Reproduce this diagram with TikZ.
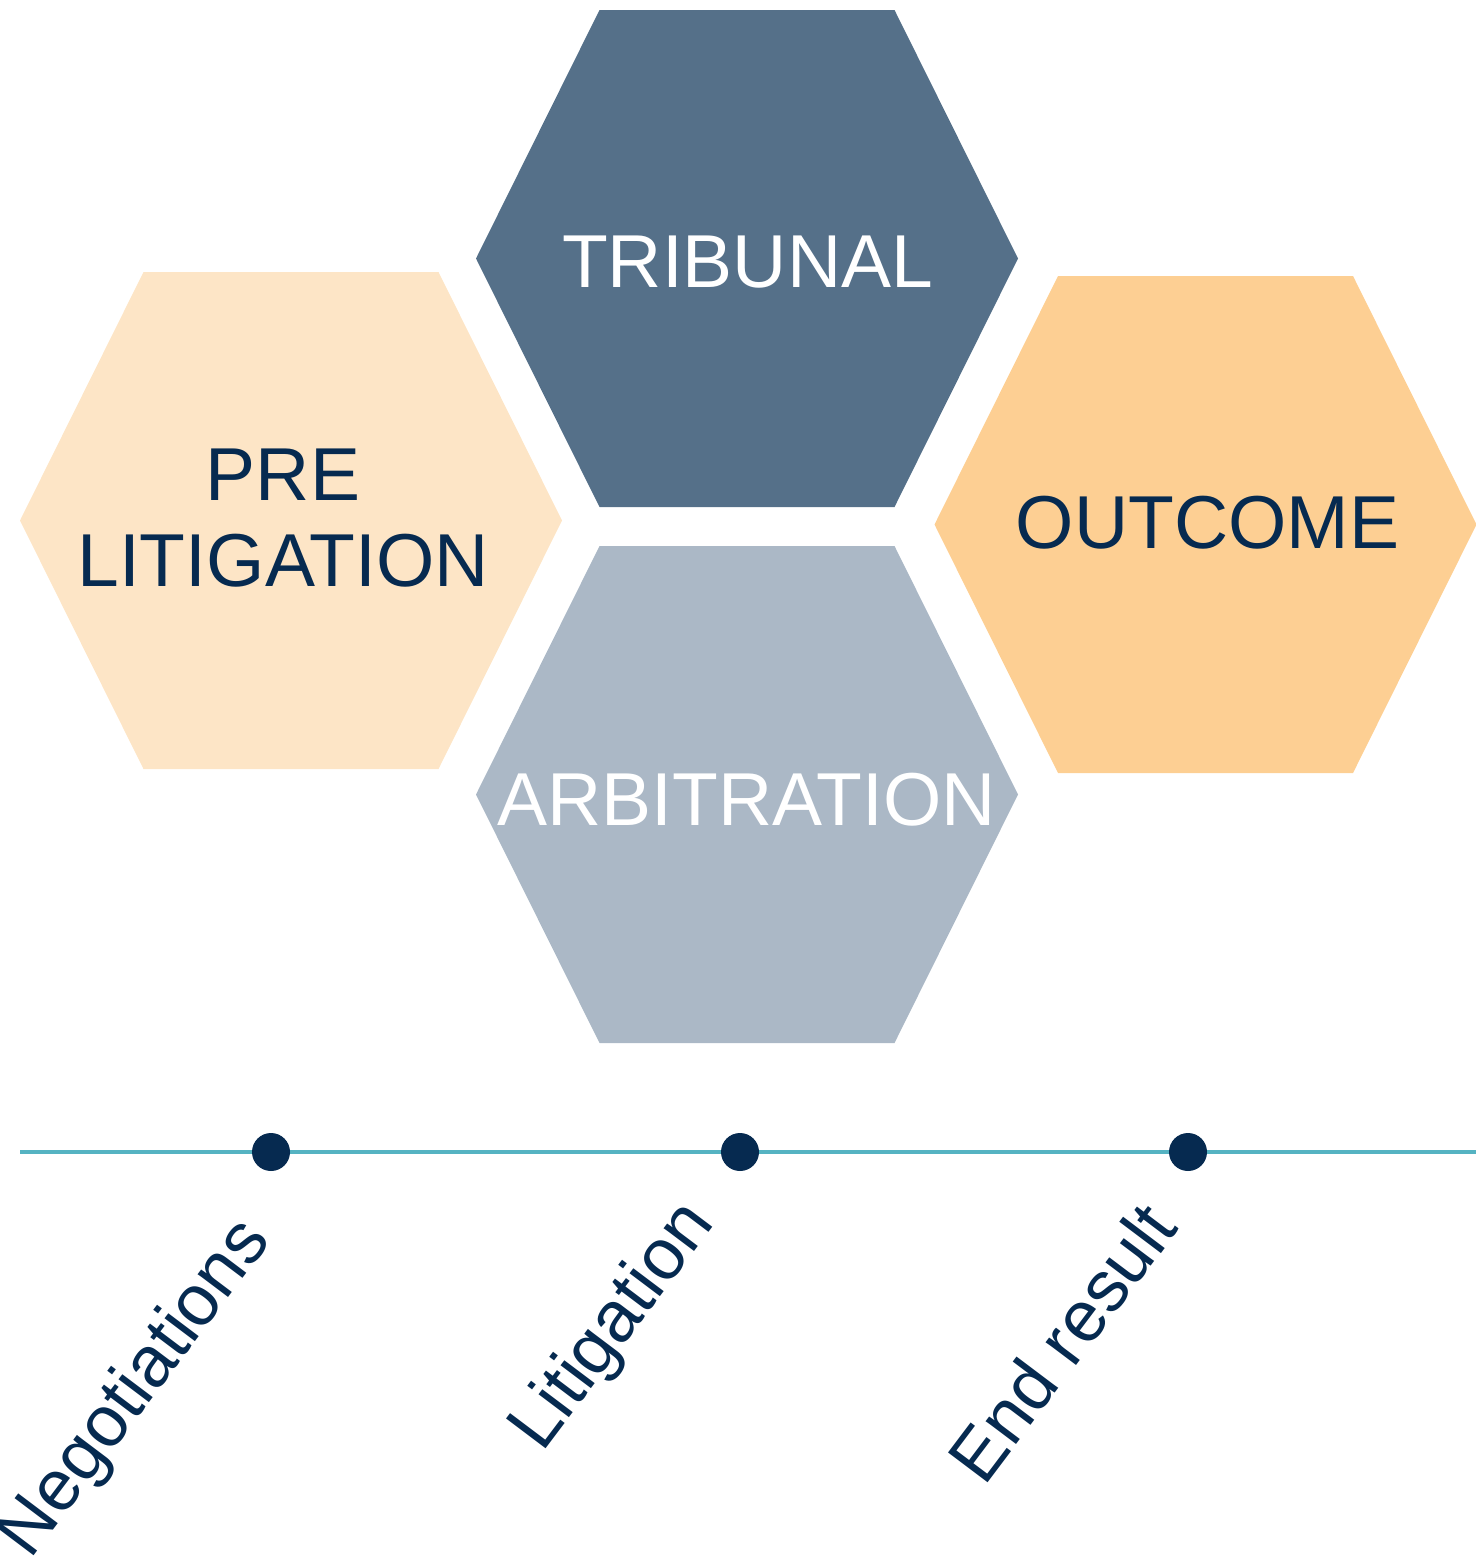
\documentclass[tikz,border=0pt]{standalone}
\usepackage{fontspec}
\setmainfont{Liberation Sans}
\usetikzlibrary{positioning}

\definecolor{tribunalblue}{HTML}{557089}
\definecolor{arbitrationgrey}{HTML}{ABB8C6}
\definecolor{prelitcream}{HTML}{FDE5C6}
\definecolor{outcomeorange}{HTML}{FDCF93}
\definecolor{navyink}{HTML}{062A50}
\definecolor{timelineteal}{HTML}{55B3C2}

\tikzset{
  hexcell/.style={fill=#1, draw=none},
  hexlabel/.style={font=\fontsize{37.5}{43}\selectfont, inner sep=0pt, align=center},
  steplabel/.style={font=\fontsize{36}{42}\selectfont, text=navyink, rotate=53,
    anchor=base east, inner sep=0pt},
  stepdot/.style={circle, fill=navyink, minimum size=19pt, inner sep=0pt},
}

% flat-topped hexagon around its centre
\newcommand{\hexcell}[3]{%
  \fill[hexcell=#3, shift={(#1,#2)}] (-147.5,-248.5) -- (147.5,-248.5) -- (271,0)
    -- (147.5,248.5) -- (-147.5,248.5) -- (-271,0) -- cycle;}

\begin{document}
\begin{tikzpicture}[x=0.5pt, y=-0.5pt]
\useasboundingbox (0,0) rectangle (1476,1563);

% hexagons
\hexcell{747}{258.5}{tribunalblue}
\hexcell{291}{520.5}{prelitcream}
\hexcell{1205.5}{524.5}{outcomeorange}
\hexcell{747}{794.5}{arbitrationgrey}

\node[hexlabel, text=white] (tribunal) at (747.5,262.5) {TRIBUNAL};
\node[hexlabel, text=navyink] (prelit) at (283,518.5) {PRE\\LITIGATION};
\node[hexlabel, text=navyink] (outcome) at (1207.5,522.5) {OUTCOME};
\node[hexlabel, text=white] (arbitration) at (746.5,799.5) {ARBITRATION};

% timeline
\coordinate (tlstart) at (20,1152);
\coordinate (tlend) at (1476,1152);
\draw[timelineteal, line width=2.2pt] (tlstart) -- (tlend);

\node[stepdot] (d1) at (271,1152) {};
\node[stepdot] (d2) at (740,1152) {};
\node[stepdot] (d3) at (1188,1152) {};

\node[steplabel] (neg) at (272,1240) {Negotiations};
\node[steplabel] (lit) at (716,1223) {Litigation};
\node[steplabel] (endres) at (1180,1228) {End result};
\end{tikzpicture}
\end{document}
